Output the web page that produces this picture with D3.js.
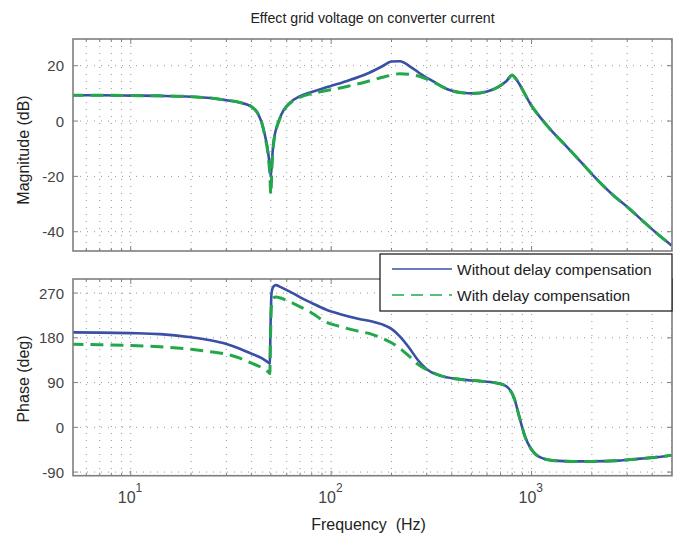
<!DOCTYPE html>
<html>
<head>
<meta charset="utf-8">
<script src="https://cdn.jsdelivr.net/npm/d3@7"></script>
<style>
  body { margin: 0; background: #fff; }
  svg { display: block; font-family: "Liberation Sans", Arial, sans-serif; }
</style>
</head>
<body>
<svg id="chart" width="684" height="535"></svg>
<script>
// ---------------- DATA ----------------
const titleText = "Effect grid voltage on converter current";
const seriesNames = ["Without delay compensation", "With delay compensation"];

const magFreq = [5, 7, 10, 14, 20, 25, 30, 35, 40, 43, 45, 47, 48, 48.7, 49.4, 50, 50.7, 51.5, 53, 55, 58, 62, 70, 80, 90, 100, 120, 150, 180, 200, 220, 250, 280, 320, 380, 450, 520, 600, 680, 750, 800, 830, 870, 930, 1000, 1100, 1250, 1500, 1800, 2050, 2600, 3000, 3550, 4200, 5000];
const magWithout = [9.3, 9.3, 9.2, 9.1, 8.8, 8.3, 7.5, 6.7, 5.2, 2.8, -0.5, -6, -9.3, -12.5, -16.5, -20, -14, -8, -3.2, 0.4, 4, 6.5, 9, 10.5, 11.7, 12.7, 14.5, 17, 19.8, 21.5, 21.6, 19.5, 17, 14.5, 11.5, 10.2, 10, 10.7, 12.3, 14.5, 16.6, 15.5, 13.3, 9.5, 5.5, 1.5, -3.3, -9.3, -15.5, -20, -27.3, -31, -35.8, -40.5, -45];
const magWith = [9.3, 9.3, 9.2, 9.1, 8.8, 8.3, 7.5, 6.7, 5.2, 2.8, -0.5, -6.5, -10, -14, -19, -26.5, -16, -9, -3.6, 0.2, 3.8, 6.3, 8.6, 9.9, 10.7, 11.3, 12.5, 14.2, 15.8, 16.6, 17.1, 16.8, 16, 14.3, 11.5, 10.2, 10, 10.7, 12.3, 14.5, 16.6, 15.5, 13.3, 9.5, 5.5, 1.5, -3.3, -9.3, -15.5, -20, -27.3, -31, -35.8, -40.5, -45];

const phaseFreq = [5, 7, 10, 14, 20, 25, 30, 35, 40, 45, 47.5, 49, 49.4, 49.8, 50.4, 51.5, 53, 56, 60, 65, 72, 80, 94, 110, 138, 160, 180, 200, 220, 245, 270, 300, 350, 430, 550, 650, 720, 770, 820, 870, 930, 1000, 1130, 1300, 1600, 2000, 2700, 3500, 4200, 5000];
const phaseWithout = [191, 190.5, 189.5, 187.5, 181, 175, 167.5, 158, 148, 139, 133, 129, 128, 200, 270, 283, 286, 282, 276, 269, 259, 250, 237, 228, 218, 213, 207, 198, 183, 160, 136, 117, 104, 97, 93, 90, 86, 78, 58, 20, -20, -45, -62, -67, -68.5, -68.5, -67, -63, -60, -56];
const phaseWith = [167, 166, 164.5, 162, 157, 152, 147, 139, 129, 120, 114, 110, 108, 180, 245, 260, 262, 260, 255, 249, 240, 230, 212, 203, 193, 187, 179, 170, 159, 143, 127, 116, 104, 97, 93, 90, 86, 78, 58, 20, -20, -45, -62, -67, -68.5, -68.5, -67, -63, -60, -56];

const magTicks = [-40, -20, 0, 20];
const phaseTicks = [-90, 0, 90, 180, 270];
const decadeTicks = [10, 100, 1000];

// ---------------- LAYOUT ----------------
const svg = d3.select("#chart");
const L = 73, R = 672;
const topBox = { top: 39, bottom: 251 };
const botBox = { top: 279, bottom: 475.7 };
const blue = "#3a4fa6", green = "#22a84a", frame = "#7f7f7f", textCol = "#444";

const x = d3.scaleLog().domain([5.15, 5020]).range([L, R]);
const yMag = d3.scaleLinear().domain([-46.97, 29.65]).range([topBox.bottom, topBox.top]);
const yPh = d3.scaleLinear().domain([-97.3, 298.3]).range([botBox.bottom, botBox.top]);

// minor grid positions
const xGrid = [];
for (let e = 0; e <= 3; e++) for (let m = 1; m <= 9; m++) {
  const v = m * Math.pow(10, e);
  if (v >= 5.15 && v <= 5020) xGrid.push(v);
}

function panel(box, y, ticks, id) {
  const g = svg.append("g");
  svg.append("clipPath").attr("id", id).append("rect")
    .attr("x", L).attr("y", box.top).attr("width", R - L).attr("height", box.bottom - box.top);
  // grid
  g.selectAll(".vg").data(xGrid).join("line")
    .attr("x1", d => x(d)).attr("x2", d => x(d))
    .attr("y1", box.top).attr("y2", box.bottom)
    .attr("stroke", "#8a8a8a").attr("stroke-width", 0.9).attr("stroke-dasharray", "1,6");
  g.selectAll(".hg").data(ticks).join("line")
    .attr("x1", L).attr("x2", R)
    .attr("y1", d => y(d)).attr("y2", d => y(d))
    .attr("stroke", "#8a8a8a").attr("stroke-width", 0.9).attr("stroke-dasharray", "1,6");
  // tick marks (inside)
  const tk = svg.append("g").attr("stroke", frame).attr("stroke-width", 1);
  xGrid.forEach(v => {
    const len = decadeTicks.includes(v) ? 5 : 3;
    tk.append("line").attr("x1", x(v)).attr("x2", x(v)).attr("y1", box.bottom).attr("y2", box.bottom - len);
    tk.append("line").attr("x1", x(v)).attr("x2", x(v)).attr("y1", box.top).attr("y2", box.top + len);
  });
  ticks.forEach(v => {
    tk.append("line").attr("x1", L).attr("x2", L + 5).attr("y1", y(v)).attr("y2", y(v));
    tk.append("line").attr("x1", R).attr("x2", R - 5).attr("y1", y(v)).attr("y2", y(v));
  });
  // y tick labels
  svg.append("g").selectAll("text").data(ticks).join("text")
    .attr("x", L - 9).attr("y", d => y(d) + 5.5)
    .attr("text-anchor", "end").attr("font-size", 15).attr("fill", textCol)
    .text(d => d);
  return g;
}

function drawLines(freq, a, b, y, clipId) {
  const gl = svg.append("g").attr("clip-path", `url(#${clipId})`);
  const line = d3.line().x(d => x(d[0])).y(d => y(d[1])).curve(d3.curveMonotoneX);
  gl.append("path").datum(freq.map((f, i) => [f, a[i]]))
    .attr("d", line).attr("fill", "none").attr("stroke", blue).attr("stroke-width", 2.6);
  gl.append("path").datum(freq.map((f, i) => [f, b[i]]))
    .attr("d", line).attr("fill", "none").attr("stroke", green).attr("stroke-width", 3)
    .attr("stroke-dasharray", "13,7");
}

panel(topBox, yMag, magTicks, "clipTop");
drawLines(magFreq, magWithout, magWith, yMag, "clipTop");
panel(botBox, yPh, phaseTicks, "clipBot");
drawLines(phaseFreq, phaseWithout, phaseWith, yPh, "clipBot");

// frames
[topBox, botBox].forEach(b => {
  svg.append("rect").attr("x", L).attr("y", b.top).attr("width", R - L).attr("height", b.bottom - b.top)
    .attr("fill", "none").attr("stroke", frame).attr("stroke-width", 1.6);
});

// x tick labels (10^n)
const xl = svg.append("g");
decadeTicks.forEach(v => {
  const t = xl.append("text").attr("x", x(v) - 13).attr("y", 503)
    .attr("text-anchor", "start").attr("font-size", 16).attr("fill", textCol);
  t.append("tspan").text("10");
  t.append("tspan").attr("dy", -11).attr("font-size", 12).text(Math.round(Math.log10(v)));
});

// titles & labels
svg.append("text").attr("x", (L + R) / 2).attr("y", 23).attr("text-anchor", "middle")
  .attr("font-size", 14.2).attr("fill", "#222").text(titleText);
svg.append("text").attr("x", (L + R) / 2 - 4).attr("y", 530).attr("text-anchor", "middle")
  .attr("font-size", 16).attr("fill", "#222").attr("xml:space", "preserve").text("Frequency  (Hz)");
svg.append("text").attr("transform", "translate(29,150) rotate(-90)").attr("text-anchor", "middle")
  .attr("font-size", 16).attr("fill", "#222").text("Magnitude (dB)");
svg.append("text").attr("transform", "translate(29,379) rotate(-90)").attr("text-anchor", "middle")
  .attr("font-size", 16).attr("fill", "#222").text("Phase (deg)");

// legend
const lg = svg.append("g");
lg.append("rect").attr("x", 380).attr("y", 254).attr("width", 292).attr("height", 57)
  .attr("fill", "#fff").attr("stroke", "#111").attr("stroke-width", 1.2);
const legendItems = [
  { name: seriesNames[0], color: blue, dash: null, y: 269 },
  { name: seriesNames[1], color: green, dash: "12,7", y: 295 }
];
legendItems.forEach(it => {
  const ln = lg.append("line").attr("x1", 392).attr("x2", 452).attr("y1", it.y).attr("y2", it.y)
    .attr("stroke", it.color).attr("stroke-width", 1.5);
  if (it.dash) ln.attr("stroke-dasharray", it.dash);
  lg.append("text").attr("x", 457).attr("y", it.y + 5.5).attr("font-size", 15.5).attr("fill", "#222").text(it.name);
});
</script>
</body>
</html>
